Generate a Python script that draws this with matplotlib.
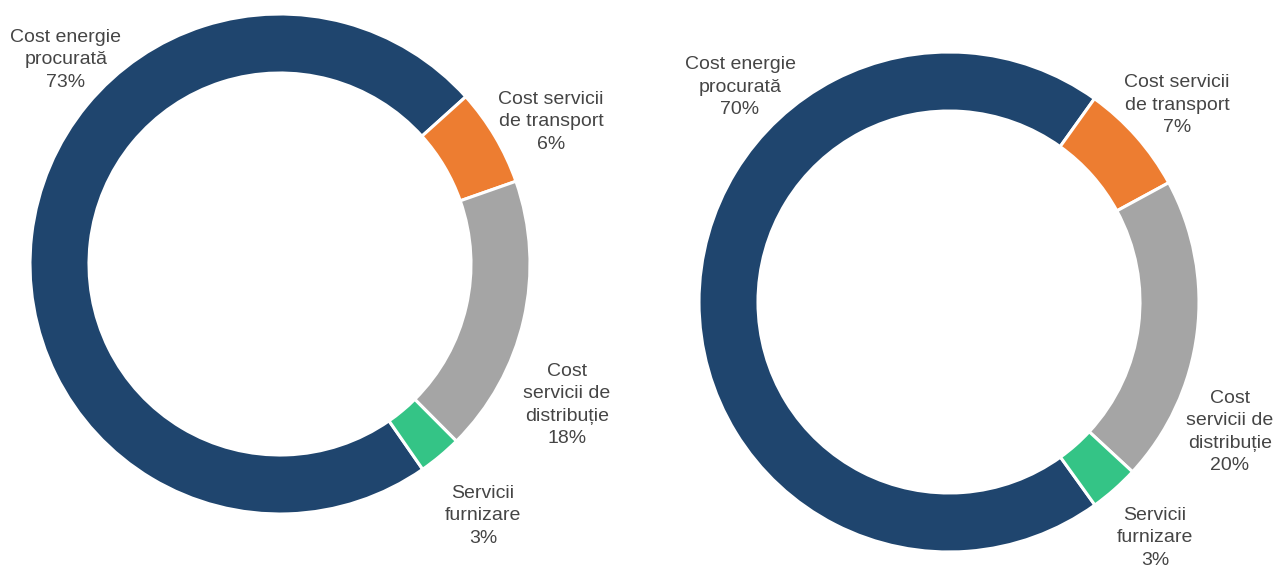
import matplotlib
matplotlib.use("Agg")
import matplotlib.pyplot as plt

# ---- data ----
categories = ["Cost energie\nprocurată", "Cost servicii\nde transport",
              "Cost\nservicii de\ndistribuție", "Servicii\nfurnizare"]
values_left = [73.0, 6.3, 17.9, 2.8]
values_right = [69.8, 7.2, 19.8, 3.2]
colors = ["#1F456E", "#ED7D31", "#A5A5A5", "#34C486"]

W, H = 1279, 568
fig = plt.figure(figsize=(W / 100, H / 100), dpi=100)
plt.rcParams['font.family'] = ['Liberation Sans', 'DejaVu Sans']

def px_axes(cx, cy, r):
    return fig.add_axes([(cx - r) / W, (H - cy - r) / H, 2 * r / W, 2 * r / H])

def donut(ax, vals, start):
    ax.pie(vals, colors=colors, startangle=start, counterclock=False, radius=1.0,
           wedgeprops=dict(width=0.236, edgecolor="white", linewidth=2.2))
    ax.set_xlim(-1, 1)
    ax.set_ylim(-1, 1)
    ax.set_aspect("equal")
    ax.axis("off")

axL = px_axes(280, 264, 250)
donut(axL, values_left, -55.2)
axR = px_axes(949, 302, 250)
donut(axR, values_right, -54.3)

label_pos_left = [(66, 60), (551, 122), (567, 405), (483, 516)]
label_pos_right = [(740, 87), (1177, 105), (1230, 432), (1155, 538)]

def labels(vals, pos):
    for cat, v, (x, y) in zip(categories, vals, pos):
        fig.text(x / W, 1 - y / H, f"{cat}\n{round(v):d}%", ha="center", va="center",
                 multialignment="center", fontsize=14, color="#454545", linespacing=1.42)

labels(values_left, label_pos_left)
labels(values_right, label_pos_right)

fig.savefig("out.png", dpi=100, facecolor="white")
